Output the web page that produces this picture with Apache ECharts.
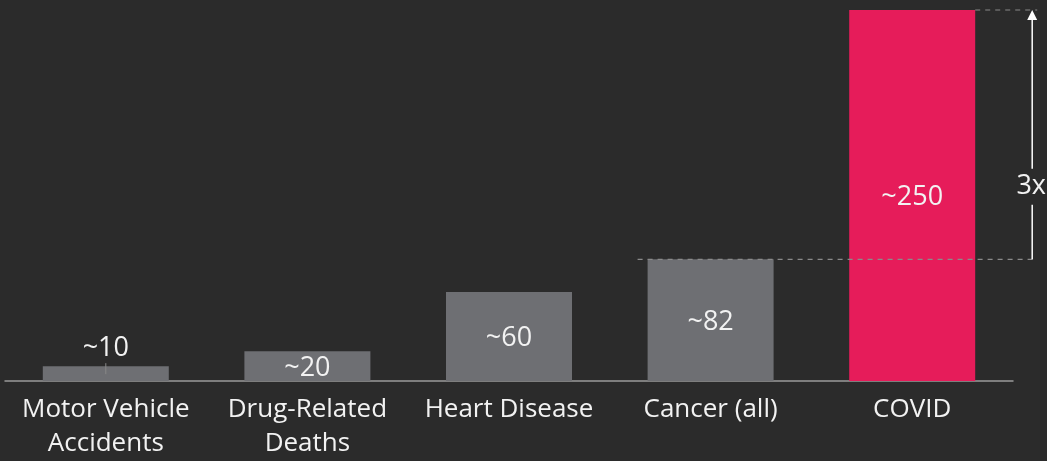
<!DOCTYPE html>
<html>
<head>
<meta charset="utf-8">
<script src="https://cdn.jsdelivr.net/npm/echarts@6/dist/echarts.min.js"></script>
<style>
html,body{margin:0;padding:0;background:#2b2b2b;}
#c{width:1047px;height:461px;}
</style>
</head>
<body>
<div id="c"></div>
<script>
const categories = ['Motor Vehicle\nAccidents', 'Drug-Related\nDeaths', 'Heart Disease', 'Cancer (all)', 'COVID'];
const values = [10, 20, 60, 82, 250];
const valueLabels = ['~10', '~20', '~60', '~82', '~250'];
const ratioLabel = '3x';

const FONT = '"Open Sans", "Noto Sans", sans-serif';
const GRAY = '#6e6f73';
const RED = '#e61c5a';
const TEXT = '#f2f2f2';

const chart = echarts.init(document.getElementById('c'));

const data = values.map((v, i) => ({
  value: v,
  itemStyle: { color: i === values.length - 1 ? RED : GRAY },
  label: {
    show: true,
    position: i === 0 ? 'top' : 'inside',
    distance: 4,
    offset: i === 0 ? [0, 0] : [0, 2],
    formatter: valueLabels[i],
    color: TEXT,
    fontFamily: FONT,
    fontSize: 27
  }
}));

chart.setOption({
  backgroundColor: '#2b2b2b',
  animation: false,
  grid: { left: 5, right: 34, top: 10, bottom: 77, containLabel: false },
  xAxis: {
    type: 'category',
    data: categories,
    axisTick: { show: false },
    axisLine: { lineStyle: { color: '#9a9a9a', width: 1.5 } },
    axisLabel: {
      color: TEXT, fontFamily: FONT, fontSize: 26, lineHeight: 34, margin: 12, interval: 0
    }
  },
  yAxis: {
    type: 'value', min: 0, max: 250,
    show: false,
    splitLine: { show: false }
  },
  series: [{
    type: 'bar',
    data: data,
    barWidth: '62.5%'
  }]
});

// Annotation: dashed guides and "3x" arrow, positioned from the axis scales
const pCancer = chart.convertToPixel({ gridIndex: 0 }, [3, values[3]]);
const pCovid = chart.convertToPixel({ gridIndex: 0 }, [4, values[4]]);
const pMotor = chart.convertToPixel({ gridIndex: 0 }, [0, values[0]]);
const band = chart.convertToPixel({ gridIndex: 0 }, [1, 0])[0] - chart.convertToPixel({ gridIndex: 0 }, [0, 0])[0];
const barHalf = band * 0.625 / 2;
const arrowX = pCovid[0] + barHalf + 57;
const lineEnd = arrowX + 5;
const textY = (pCancer[1] + pCovid[1]) / 2 + 54;
const dash = { stroke: '#8a8a8a', lineWidth: 1.2, lineDash: [5, 5] };

chart.setOption({
  graphic: [
    { type: 'line', z: 100, shape: { x1: pCancer[0] - barHalf - 10, y1: pCancer[1], x2: lineEnd, y2: pCancer[1] }, style: dash },
    { type: 'line', z: 100, shape: { x1: pCovid[0] + barHalf, y1: pCovid[1], x2: lineEnd, y2: pCovid[1] }, style: dash },
    { type: 'line', z: 100, shape: { x1: arrowX, y1: pCancer[1], x2: arrowX, y2: textY + 16 }, style: { stroke: '#ffffff', lineWidth: 1.5 } },
    { type: 'line', z: 100, shape: { x1: arrowX, y1: textY - 20, x2: arrowX, y2: pCovid[1] + 8 }, style: { stroke: '#ffffff', lineWidth: 1.5 } },
    { type: 'polygon', z: 100, shape: { points: [[arrowX, pCovid[1]], [arrowX - 5, pCovid[1] + 10], [arrowX + 5, pCovid[1] + 10]] }, style: { fill: '#ffffff' } },
    { type: 'text', z: 100, x: arrowX - 1, y: textY - 2, style: { text: ratioLabel, fill: TEXT, font: '27px ' + FONT, textAlign: 'center', textVerticalAlign: 'middle' } },
    { type: 'line', z: 100, shape: { x1: pMotor[0], y1: pMotor[1] - 3, x2: pMotor[0], y2: pMotor[1] + 8 }, style: { stroke: '#888888', lineWidth: 1 } }
  ]
});
</script>
</body>
</html>
